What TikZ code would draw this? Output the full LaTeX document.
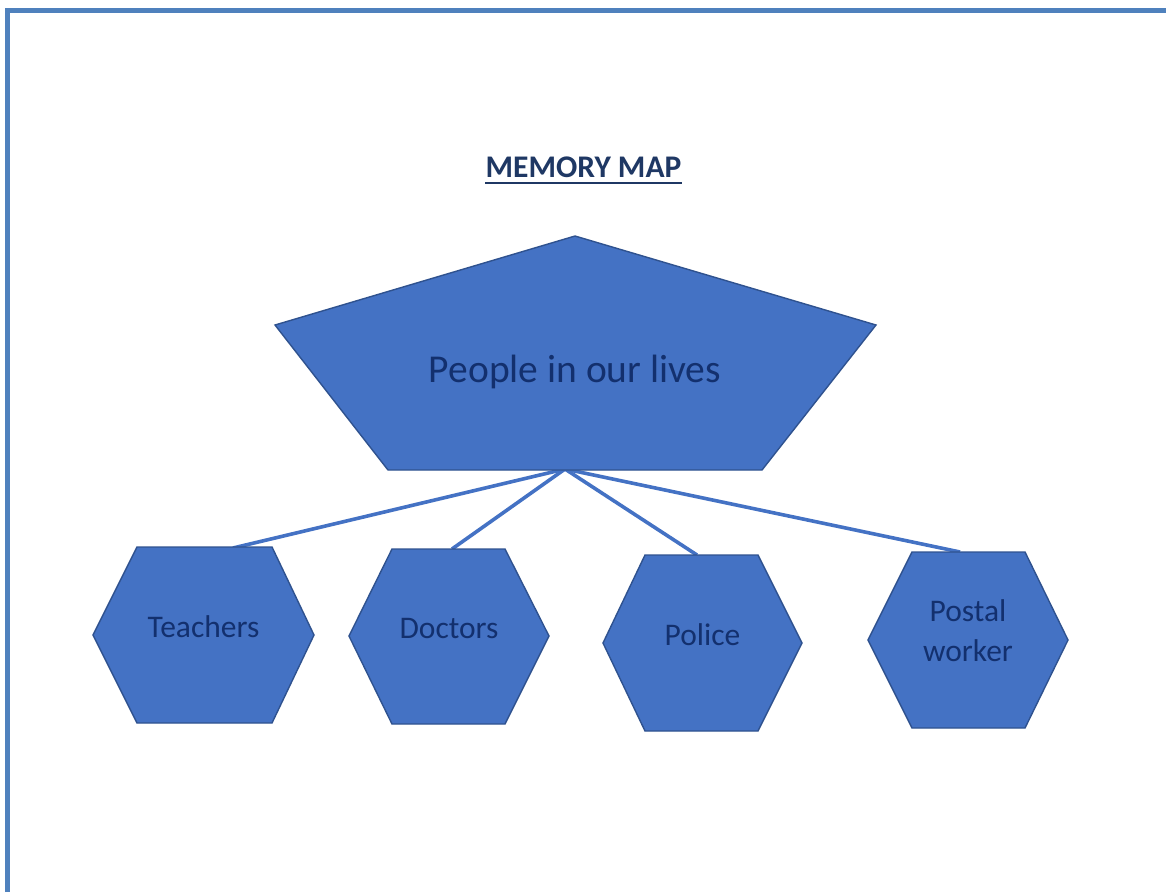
\documentclass[tikz,border=0pt]{standalone}
\usepackage{fontspec}
\setmainfont{Carlito}
\definecolor{frameblue}{HTML}{4F81BD}
\definecolor{shapefill}{HTML}{4472C4}
\definecolor{shapeedge}{HTML}{2F528F}
\definecolor{navytext}{HTML}{1F3864}
\definecolor{labeltext}{HTML}{13306E}
\tikzset{
  shapebody/.style={fill=shapefill,draw=shapeedge,line width=1.4pt,line join=miter},
  connector/.style={draw=shapefill,line width=3.6pt},
  lbl/.style={text=labeltext,font=\fontsize{31.5}{40}\selectfont,align=center,inner sep=0pt},
}
\begin{document}
\begin{tikzpicture}[x=1pt,y=-1pt]
\useasboundingbox (0,0) rectangle (1166,892);
% frame
\draw[frameblue,line width=5pt] (7.5,892) -- (7.5,10.7) -- (1166,10.7);
% title
\node[text=navytext,font=\fontsize{31.5}{38}\selectfont\bfseries,inner sep=0pt,anchor=base] (title) at (583.5,177) {MEMORY MAP};
\draw[navytext,line width=2pt] (title.south west |- 0,183) -- (title.south east |- 0,183);
% connectors (drawn first, under shapes)
\coordinate (hub) at (565,469);
\coordinate (tTop) at (233,548);
\coordinate (dTop) at (452,549);
\coordinate (pTop) at (697,555);
\coordinate (wTop) at (960,552);
\draw[connector] (hub) -- (tTop);
\draw[connector] (hub) -- (dTop);
\draw[connector] (hub) -- (pTop);
\draw[connector] (hub) -- (wTop);
% pentagon
\draw[shapebody] (575,236) -- (876,325) -- (762,470) -- (388,470) -- (275,325) -- cycle;
\node[lbl,font=\fontsize{39.5}{46}\selectfont] (people) at (575,372) {People in our lives};
% hexagons
\draw[shapebody] (137,547) -- (272,547) -- (314,635) -- (272,723) -- (137,723) -- (93,635) -- cycle;
\draw[shapebody] (392,549) -- (505,549) -- (549,636) -- (505,724) -- (392,724) -- (349,636) -- cycle;
\draw[shapebody] (645,555) -- (758,555) -- (802,643) -- (758,731) -- (645,731) -- (603,643) -- cycle;
\draw[shapebody] (912,552) -- (1025,552) -- (1068,640) -- (1025,728) -- (912,728) -- (868,640) -- cycle;
\node[lbl] (teachers) at (203.5,627) {Teachers};
\node[lbl] (doctors) at (449,628) {Doctors};
\node[lbl] (police) at (702.5,635) {Police};
\node[lbl] (postal) at (968,631) {Postal\\worker};
\end{tikzpicture}
\end{document}
